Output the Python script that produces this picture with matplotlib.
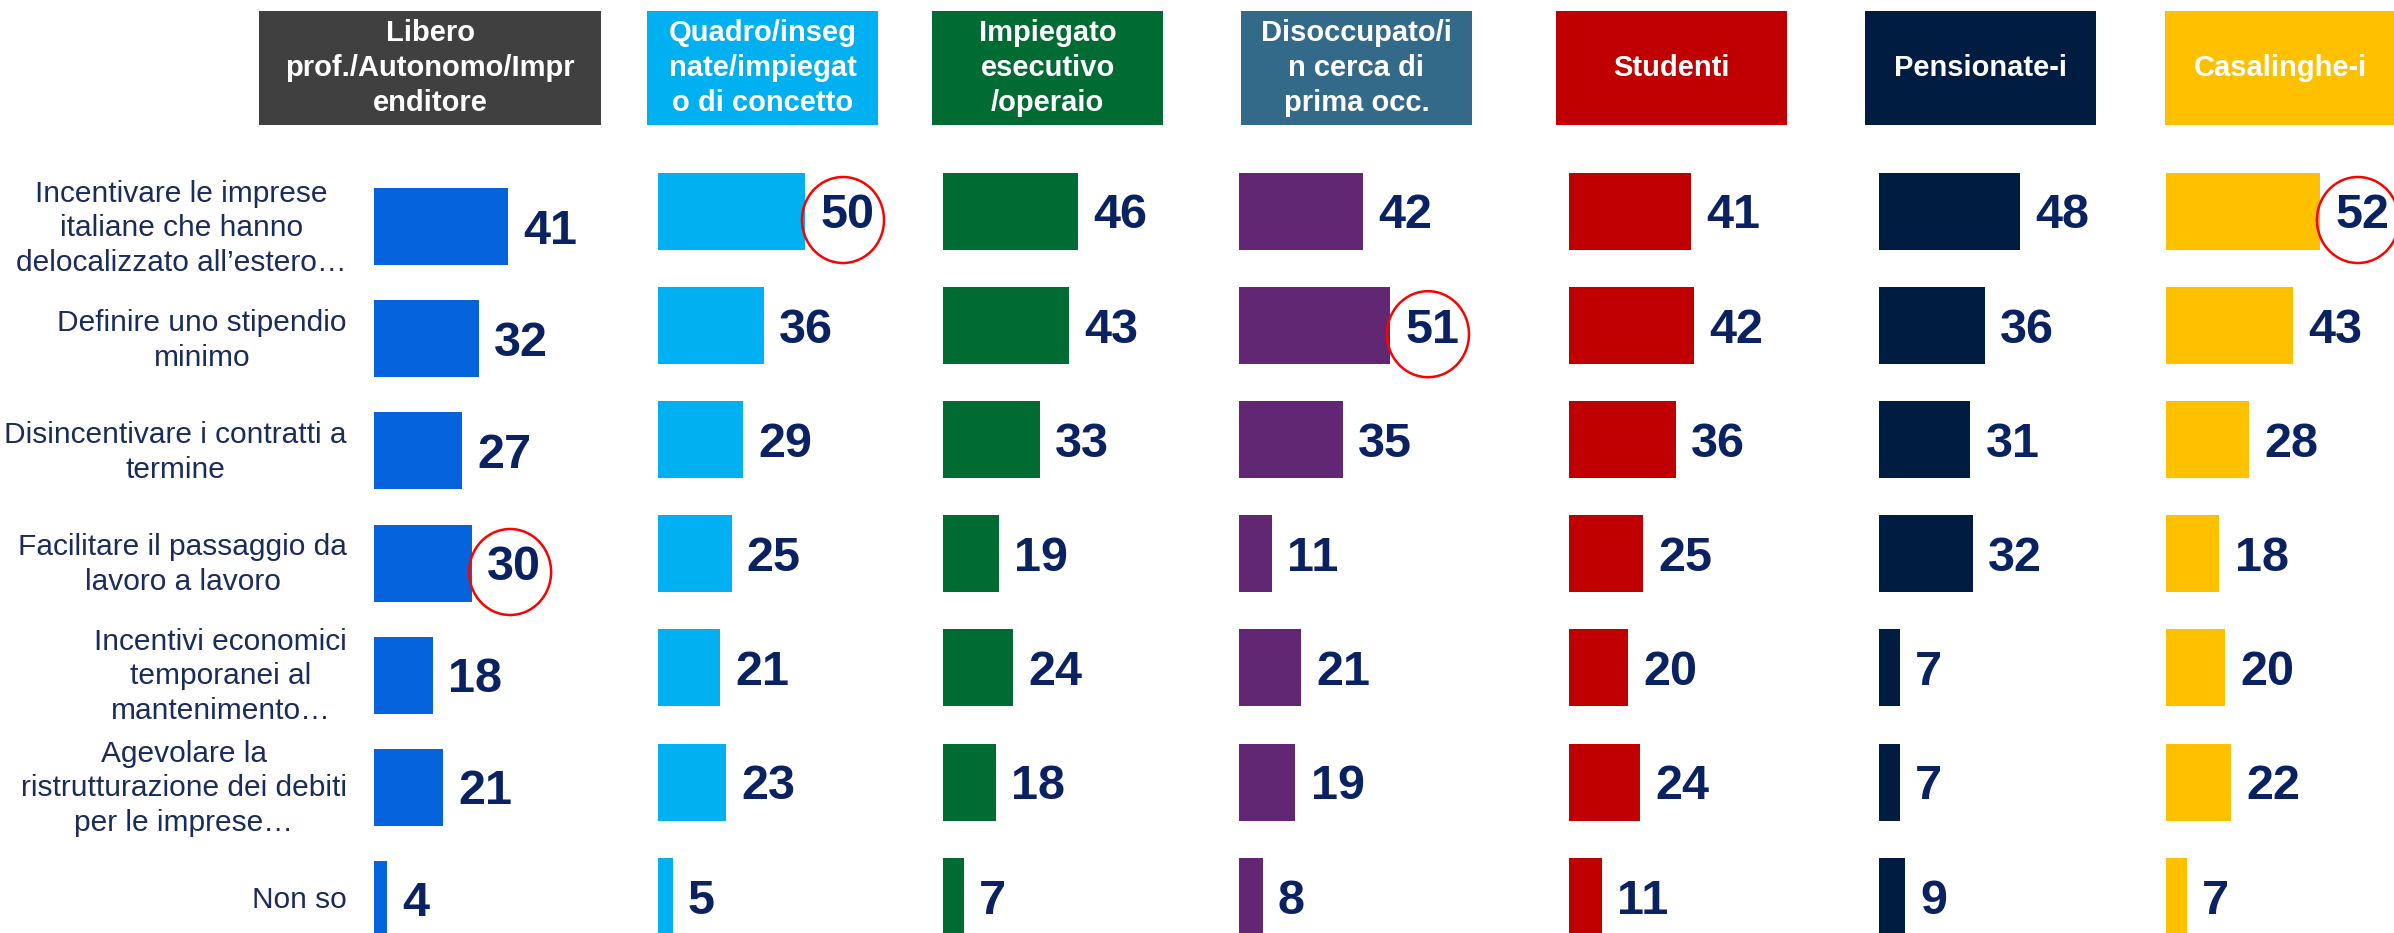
import matplotlib
matplotlib.use("Agg")
import matplotlib.pyplot as plt
from matplotlib.patches import Ellipse, Rectangle

plt.rcParams['font.family'] = ['Liberation Sans', 'DejaVu Sans']

# dati
categorie = [
    "Incentivare le imprese\nitaliane che hanno\ndelocalizzato all’estero…",
    "Definire uno stipendio\nminimo",
    "Disincentivare i contratti a\ntermine",
    "Facilitare il passaggio da\nlavoro a lavoro",
    "Incentivi economici\ntemporanei al\nmantenimento…",
    "Agevolare la\nristrutturazione dei debiti\nper le imprese…",
    "Non so",
]
gruppi = [
    "Libero\nprof./Autonomo/Impr\nenditore",
    "Quadro/inseg\nnate/impiegat\no di concetto",
    "Impiegato\nesecutivo\n/operaio",
    "Disoccupato/i\nn cerca di\nprima occ.",
    "Studenti",
    "Pensionate-i",
    "Casalinghe-i",
]
libero = [41, 32, 27, 30, 18, 21, 4]
quadro = [50, 36, 29, 25, 21, 23, 5]
impiegato = [46, 43, 33, 19, 24, 18, 7]
disoccupato = [42, 51, 35, 11, 21, 19, 8]
studenti = [41, 42, 36, 25, 20, 24, 11]
pensionati = [48, 36, 31, 32, 7, 7, 9]
casalinghe = [52, 43, 28, 18, 20, 22, 7]
valori = [libero, quadro, impiegato, disoccupato, studenti, pensionati, casalinghe]
evidenziati = [(0, 3), (1, 0), (3, 1), (6, 0)]  # (gruppo, riga) cerchiati in rosso

# stile / layout (pixel)
W, H = 2394, 933
col_testa = ['#404040', '#00B0F0', '#006B33', '#336A8A', '#C00000', '#001C41', '#FFC000']
col_barre = ['#0563DC', '#00B0F0', '#006B33', '#622773', '#C00000', '#001C41', '#FFC000']
testa_x = [(259, 601), (647, 878), (932, 1163), (1241, 1472), (1556, 1787), (1865, 2096), (2165, 2396)]
barra_x0 = [374, 658, 943, 1239, 1569, 1879, 2166]
px_unita = [3.27, 2.94, 2.93, 2.96, 2.97, 2.94, 2.96]
riga0 = [227, 211, 211, 211, 211, 211, 211]
passo = [112, 114.2, 114.2, 114.2, 114.2, 114.2, 114.2]
alt_barra = 77
navy = '#0B2262'
testo_cat = '#1A2B5E'

fig = plt.figure(figsize=(W / 100, H / 100), dpi=100)

# intestazioni colorate
for i, nome in enumerate(gruppi):
    x1, x2 = testa_x[i]
    fig.add_artist(Rectangle((x1 / W, 1 - 125 / H), (x2 - x1) / W, 114 / H,
                             transform=fig.transFigure, color=col_testa[i], lw=0))
    fig.text((x1 + x2) / 2 / W, 1 - 68 / H, nome, ha='center', va='center',
             color='white', fontsize=21, fontweight='bold', linespacing=1.3)

for i, vals in enumerate(valori):
    x0 = barra_x0[i]
    wpx = min(280, W - x0)
    ax = fig.add_axes([x0 / W, 0, wpx / W, 1])
    ax.patch.set_visible(False)
    ax.set_xlim(0, wpx / px_unita[i])
    ax.set_ylim((H - riga0[i]) / passo[i], -riga0[i] / passo[i])
    ax.axis('off')
    righe = list(range(len(vals)))
    ax.barh(righe, vals, height=alt_barra / passo[i], color=col_barre[i], lw=0)
    for r, v in zip(righe, vals):
        ax.annotate(str(v), (v, r), xytext=(11, -12.5), textcoords='offset points',
                    ha='left', va='baseline', fontsize=35, fontweight='bold',
                    color=navy, annotation_clip=False)
    if i == 0:
        for r, lab in zip(righe, categorie):
            ax.annotate(lab, (0, r), xytext=(-19.5, -1), textcoords='offset points',
                        ha='right', va='center', multialignment='center',
                        fontsize=21.5, color=testo_cat, linespacing=1.3,
                        annotation_clip=False)
    for g, r in evidenziati:
        if g != i:
            continue
        v = vals[r]
        ax.add_patch(Ellipse((v + 38 / px_unita[i], r + 9 / passo[i]),
                             82 / px_unita[i], 86 / passo[i],
                             fill=False, edgecolor='#FF0000', lw=1.8, clip_on=False))

fig.savefig('out.png', dpi=100)
